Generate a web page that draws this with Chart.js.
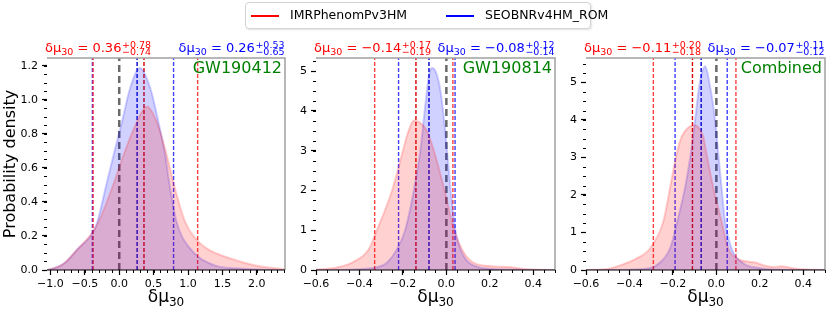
<!DOCTYPE html>
<html lang="en">
<head>
<meta charset="UTF-8">
<title>delta mu30</title>
<script src="https://cdn.jsdelivr.net/npm/chart.js"></script>
<style>
  body { margin: 0; width: 830px; height: 312px; background: #fff; position: relative; overflow: hidden;
         font-family: "DejaVu Sans", sans-serif; }
  canvas { position: absolute; top: 0; }
  #legenda { position: absolute; left: 245px; top: 2px; width: 344px; height: 25px; border: 1px solid #d4d4d4;
             border-radius: 4px; box-shadow: 1px 1px 2px rgba(0,0,0,0.12); background: #fff; z-index: 5; }
  #legenda .traco { position: absolute; top: 12px; width: 28px; height: 1.5px; }
  #legenda .nome { position: absolute; top: 4px; font-size: 12.5px; color: #000; white-space: nowrap; }
</style>
</head>
<body>

<div id="legenda">
  <span class="traco" style="left:5px; background:#ff0000"></span><span class="nome" id="nome0" style="left:44px"></span>
  <span class="traco" style="left:200px; background:#0000ff"></span><span class="nome" id="nome1" style="left:239px"></span>
</div>

<canvas id="painel1" width="290" height="312" style="left:0px"></canvas>
<canvas id="painel2" width="280" height="312" style="left:280px"></canvas>
<canvas id="painel3" width="280" height="312" style="left:550px"></canvas>

<script>
const modelos = ['IMRPhenomPv3HM', 'SEOBNRv4HM_ROM'];
const eventos = ['GW190412', 'GW190814', 'Combined'];

// GW190412
const xImr1 = [-1.05, -0.95, -0.8, -0.6, -0.4, -0.3, -0.106, 0.063, 0.256, 0.40, 0.546, 0.69, 0.81, 0.957,
               1.1, 1.27, 1.61, 2.0, 2.41];
const imr1 = [0, 0.01, 0.04, 0.125, 0.215, 0.284, 0.48, 0.676, 0.87, 0.96, 0.87, 0.676, 0.48, 0.284,
              0.19, 0.127, 0.069, 0.025, 0.005];
const xSeob1 = [-1.05, -0.95, -0.8, -0.6, -0.4, -0.32, -0.2, -0.08, 0.04, 0.16, 0.30, 0.45, 0.57, 0.667,
                0.74, 0.836, 1.03, 1.37, 1.7, 2.41];
const seob1 = [0, 0.01, 0.04, 0.125, 0.21, 0.28, 0.48, 0.68, 0.87, 1.07, 1.186, 1.07, 0.87, 0.68,
               0.48, 0.28, 0.127, 0.03, 0.01, 0];

// GW190814
const xImr2 = [-0.6, -0.5, -0.43, -0.36, -0.32, -0.25, -0.2, -0.18, -0.15, -0.12, -0.09, -0.057, -0.008,
               0.036, 0.074, 0.12, 0.2, 0.3, 0.35, 0.4, 0.5];
const imr2 = [0.01, 0.07, 0.2, 0.5, 1.0, 2.0, 3.0, 3.4, 3.75, 3.7, 3.5, 3.0, 2.0,
              1.0, 0.5, 0.2, 0.1, 0.07, 0.03, 0.01, 0];
const xSeob2 = [-0.6, -0.4, -0.3, -0.27, -0.23, -0.19, -0.15, -0.12, -0.1, -0.08, -0.065, -0.05, -0.03,
                -0.015, 0.0, 0.02, 0.04, 0.06, 0.08, 0.1, 0.15, 0.2, 0.3, 0.5];
const seob2 = [0, 0.02, 0.1, 0.2, 0.5, 1.0, 2.0, 3.0, 4.0, 4.9, 5.08, 5.0, 4.6,
               4.0, 3.2, 2.0, 1.05, 0.6, 0.35, 0.2, 0.07, 0.03, 0.01, 0];

// Combined
const xImr3 = [-0.6, -0.5, -0.44, -0.367, -0.305, -0.244, -0.213, -0.183, -0.16, -0.102, -0.06, -0.045,
               -0.014, 0.024, 0.055, 0.094, 0.15, 0.18, 0.22, 0.26, 0.3, 0.35, 0.4, 0.5];
const imr3 = [0, 0.03, 0.13, 0.31, 0.58, 1.3, 2.2, 3.1, 3.55, 3.86, 3.55, 3.1,
              2.2, 1.3, 0.58, 0.31, 0.22, 0.2, 0.12, 0.08, 0.1, 0.05, 0.02, 0];
const xSeob3 = [-0.6, -0.4, -0.3, -0.275, -0.213, -0.18, -0.144, -0.118, -0.098, -0.079, -0.052, -0.029,
                -0.006, 0.009, 0.024, 0.04, 0.07, 0.124, 0.2, 0.3, 0.5];
const seob3 = [0, 0.01, 0.06, 0.13, 0.58, 1.3, 2.2, 3.1, 4.0, 4.9, 5.43, 4.9,
               4.0, 3.1, 2.2, 1.3, 0.58, 0.18, 0.05, 0.01, 0];

// intervalos de 90%: [inferior, mediana, superior]
const imrIntervalos = [[-0.38, 0.36, 1.14], [-0.33, -0.14, 0.03], [-0.29, -0.11, 0.09]];
const seobIntervalos = [[-0.39, 0.26, 0.79], [-0.22, -0.08, 0.04], [-0.19, -0.07, 0.05]];

// textos dos titulos: mediana, +erro, -erro
const imrTitulos = [['0.36', '+0.78', '\u22120.74'], ['\u22120.14', '+0.17', '\u22120.19'], ['\u22120.11', '+0.20', '\u22120.18']];
const seobTitulos = [['0.26', '+0.53', '\u22120.65'], ['\u22120.08', '+0.12', '\u22120.14'], ['\u22120.07', '+0.11', '\u22120.12']];

// eixos
const xLimites = [[-1.05, 2.41], [-0.6, 0.5], [-0.6, 0.5]];
const yMaximos = [1.245, 5.33, 5.65];
const xTicks1 = [-1.0, -0.5, 0.0, 0.5, 1.0, 1.5, 2.0];
const xLabels1 = ['\u22121.0', '\u22120.5', '0.0', '0.5', '1.0', '1.5', '2.0'];
const xTicks2 = [-0.6, -0.4, -0.2, 0.0, 0.2, 0.4];
const xLabels2 = ['\u22120.6', '\u22120.4', '\u22120.2', '0.0', '0.2', '0.4'];
const yTicks1 = [0, 0.2, 0.4, 0.6, 0.8, 1.0, 1.2];
const yLabels1 = ['0.0', '0.2', '0.4', '0.6', '0.8', '1.0', '1.2'];
const yTicks2 = [0, 1, 2, 3, 4, 5];
const yLabels2 = ['0', '1', '2', '3', '4', '5'];

document.getElementById('nome0').textContent = modelos[0];
document.getElementById('nome1').textContent = modelos[1];

Chart.defaults.font.family = '"DejaVu Sans", sans-serif';
Chart.defaults.color = '#000';

function desenhaTitulo(ctx, t, cor, x, base, direita) {
    const grande = '13px "DejaVu Sans"', pequeno = '9.5px "DejaVu Sans"';
    ctx.font = grande;
    const w1 = ctx.measureText('\u03b4\u03bc').width;
    const w3 = ctx.measureText(' = ' + t[0]).width;
    ctx.font = pequeno;
    const w2 = ctx.measureText('30').width;
    const w4 = Math.max(ctx.measureText(t[1]).width, ctx.measureText(t[2]).width);
    let px = direita ? x - (w1 + w2 + w3 + w4) : x;
    ctx.fillStyle = cor;
    ctx.textAlign = 'left';
    ctx.textBaseline = 'alphabetic';
    ctx.font = grande;
    ctx.fillText('\u03b4\u03bc', px, base);
    px += w1;
    ctx.font = pequeno;
    ctx.fillText('30', px, base + 3);
    px += w2;
    ctx.font = grande;
    ctx.fillText(' = ' + t[0], px, base);
    px += w3 + 0.5;
    ctx.font = pequeno;
    ctx.fillText(t[1], px, base - 4.5);
    ctx.fillText(t[2], px, base + 2.5);
}

const painelPlugin = {
    id: 'painel',
    afterDatasetsDraw(chart, args, o) {
        const ctx = chart.ctx, a = chart.chartArea;
        const sx = chart.scales.x, sy = chart.scales.y;
        ctx.save();
        // bordas
        ctx.strokeStyle = '#a0a0a0';
        ctx.lineWidth = 1.5;
        ctx.beginPath();
        ctx.moveTo(a.left, a.top);
        ctx.lineTo(a.right, a.top);
        ctx.lineTo(a.right, a.bottom);
        ctx.stroke();
        ctx.strokeStyle = '#000';
        ctx.lineWidth = 1.2;
        ctx.beginPath();
        ctx.moveTo(a.left, a.bottom);
        ctx.lineTo(a.right, a.bottom);
        ctx.stroke();
        // ticks menores
        ctx.lineWidth = 1;
        ctx.beginPath();
        for (let k = Math.ceil(sx.min / o.xMenor - 1e-6); k * o.xMenor <= sx.max + 1e-9; k++) {
            const p = Math.round(sx.getPixelForValue(k * o.xMenor)) + 0.5;
            ctx.moveTo(p, a.bottom);
            ctx.lineTo(p, a.bottom + 3);
        }
        for (let k = 0; k * o.yMenor <= sy.max + 1e-9; k++) {
            const p = Math.round(sy.getPixelForValue(k * o.yMenor)) + 0.5;
            ctx.moveTo(a.left, p);
            ctx.lineTo(a.left - 3, p);
        }
        ctx.stroke();
        // nome do evento
        ctx.fillStyle = '#008000';
        ctx.font = '16px "DejaVu Sans"';
        ctx.textAlign = 'right';
        ctx.textBaseline = 'alphabetic';
        ctx.fillText(o.evento, a.right - 3, a.top + 15);
        // titulos
        desenhaTitulo(ctx, o.tituloImr, '#ff0000', a.left - 2, 52, false);
        desenhaTitulo(ctx, o.tituloSeob, '#0000ff', a.right - 1, 52, true);
        // titulo do eixo x
        ctx.fillStyle = '#000';
        ctx.font = '17px "DejaVu Sans"';
        const wa = ctx.measureText('\u03b4\u03bc').width;
        ctx.font = '12px "DejaVu Sans"';
        const wb = ctx.measureText('30').width;
        const cx = (a.left + a.right) / 2 - (wa + wb) / 2;
        ctx.textAlign = 'left';
        ctx.font = '17px "DejaVu Sans"';
        ctx.fillText('\u03b4\u03bc', cx, 302);
        ctx.font = '12px "DejaVu Sans"';
        ctx.fillText('30', cx + wa, 306);
        ctx.restore();
    }
};

function linhaVertical(x, yMax, cor, largura, tracos) {
    return {
        data: [{ x: x, y: 0 }, { x: x, y: yMax }],
        borderColor: cor,
        borderWidth: largura,
        borderDash: tracos,
        pointRadius: 0,
        fill: false
    };
}

function curva(xs, ys, cor) {
    return {
        data: xs.map((x, k) => ({ x: x, y: ys[k] })),
        fill: 'origin',
        backgroundColor: cor,
        borderColor: cor,
        borderWidth: 2,
        pointRadius: 0,
        cubicInterpolationMode: 'monotone'
    };
}

function criaPainel(id, i, xi, imr, xs, seob, xTicks, xLabels, yTicks, yLabels, larguraY, xMenor, yMenor) {
    const yMax = yMaximos[i];
    const datasets = [
        curva(xi, imr, 'rgba(255, 0, 0, 0.18)'),
        curva(xs, seob, 'rgba(0, 0, 255, 0.18)'),
        linhaVertical(0, yMax, 'rgba(80, 80, 80, 0.85)', 2.5, [7, 4]),
        linhaVertical(imrIntervalos[i][0], yMax, 'rgba(255, 30, 30, 0.85)', 1.4, [4, 2]),
        linhaVertical(imrIntervalos[i][2], yMax, 'rgba(255, 30, 30, 0.85)', 1.4, [4, 2]),
        linhaVertical(imrIntervalos[i][1], yMax, '#dd0000', 1.4, [4, 2]),
        linhaVertical(seobIntervalos[i][0], yMax, 'rgba(30, 30, 255, 0.85)', 1.4, [4, 2]),
        linhaVertical(seobIntervalos[i][2], yMax, 'rgba(30, 30, 255, 0.85)', 1.4, [4, 2]),
        linhaVertical(seobIntervalos[i][1], yMax, '#0000cc', 1.4, [4, 2])
    ];
    return new Chart(document.getElementById(id), {
        type: 'line',
        data: { datasets: datasets },
        options: {
            responsive: false,
            animation: false,
            devicePixelRatio: 1,
            layout: { padding: { top: 58, right: 5, left: 0, bottom: 0 } },
            plugins: {
                legend: { display: false },
                tooltip: { enabled: false },
                painel: {
                    evento: eventos[i],
                    tituloImr: imrTitulos[i],
                    tituloSeob: seobTitulos[i],
                    xMenor: xMenor,
                    yMenor: yMenor
                }
            },
            scales: {
                x: {
                    type: 'linear',
                    min: xLimites[i][0],
                    max: xLimites[i][1],
                    afterFit: s => { s.height = 42; },
                    afterBuildTicks: s => { s.ticks = xTicks.map(v => ({ value: v })); },
                    grid: { drawOnChartArea: false, drawTicks: true, tickLength: 5, tickWidth: 1.2, tickColor: '#000' },
                    border: { display: false },
                    ticks: {
                        autoSkip: false, maxRotation: 0, padding: 3, color: '#000',
                        font: { size: 11 },
                        callback: (v, k) => xLabels[k]
                    }
                },
                y: {
                    type: 'linear',
                    min: 0,
                    max: yMax,
                    afterFit: s => { s.width = larguraY; },
                    afterBuildTicks: s => { s.ticks = yTicks.map(v => ({ value: v })); },
                    grid: { drawOnChartArea: false, drawTicks: true, tickLength: 5, tickWidth: 1.2, tickColor: '#000' },
                    border: { display: false },
                    title: {
                        display: i === 0,
                        text: 'Probability density',
                        font: { size: 16 },
                        color: '#000',
                        padding: { top: 1, bottom: 0 }
                    },
                    ticks: {
                        autoSkip: false, padding: 4, color: '#000',
                        font: { size: 11 },
                        callback: (v, k) => yLabels[k]
                    }
                }
            }
        },
        plugins: [painelPlugin]
    });
}

criaPainel('painel1', 0, xImr1, imr1, xSeob1, seob1, xTicks1, xLabels1, yTicks1, yLabels1, 47, 0.1, 0.05);
criaPainel('painel2', 1, xImr2, imr2, xSeob2, seob2, xTicks2, xLabels2, yTicks2, yLabels2, 36, 0.05, 0.25);
criaPainel('painel3', 2, xImr3, imr3, xSeob3, seob3, xTicks2, xLabels2, yTicks2, yLabels2, 36, 0.05, 0.25);
</script>
</body>
</html>
